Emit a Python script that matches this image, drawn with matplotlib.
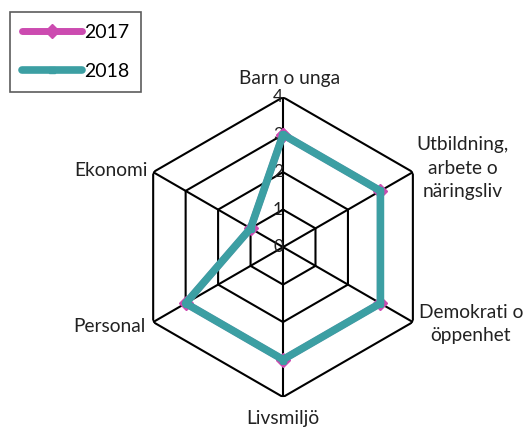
import numpy as np
import matplotlib.pyplot as plt

plt.rcParams['font.family'] = ['Lato', 'DejaVu Sans']

categories = ["Barn o unga", "Utbildning,\narbete o\nnäringsliv", "Demokrati o\nöppenhet",
              "Livsmiljö", "Personal", "Ekonomi"]
values_2017 = [3, 3, 3, 3, 3, 1]
values_2018 = [3, 3, 3, 3, 3, 1]
r_ticks = [0, 1, 2, 3, 4]

magenta = '#CC4BB0'
teal = '#3C9FA3'

n = len(categories)
angles = np.arange(n) * 2 * np.pi / n
closed = np.append(angles, angles[0])

fig = plt.figure(figsize=(5.31, 4.29), dpi=100)
ax = fig.add_axes([0.2505, 0.0745, 0.565, 0.699], projection='polar')
ax.set_theta_offset(np.pi / 2)
ax.set_theta_direction(-1)
ax.set_ylim(0, 4)
ax.grid(False)
ax.spines['polar'].set_visible(False)
ax.set_xticks([])
ax.set_yticks([])
ax.patch.set_alpha(0)

# hexagon grid
for r in r_ticks[1:]:
    ax.plot(closed, [r] * (n + 1), color='black', lw=1.5, zorder=1)
for a in angles:
    ax.plot([a, a], [0, 4], color='black', lw=1.5, zorder=1)

# r labels along top spoke
for r in r_ticks:
    ax.annotate(str(r), xy=(0, r), xytext=(-5, 0), textcoords='offset pixels',
                ha='center', va='center', fontsize=12.5, color='#222222', zorder=2)

ax.plot(closed, values_2017 + values_2017[:1], color=magenta, lw=5, marker='D',
        markersize=7, label='2017', zorder=3, solid_capstyle='round')
ax.plot(closed, values_2018 + values_2018[:1], color=teal, lw=5.5, marker='s',
        markersize=5, label='2018', zorder=4, solid_capstyle='round')

# category labels
offsets = [(7, 19, 'center'), (50, 4, 'center'), (58, -2, 'center'),
           (0, -21, 'center'), (-8, -4, 'right'), (-5, 2, 'right')]
for a, lab, (dx, dy, ha) in zip(angles, categories, offsets):
    ax.annotate(lab, xy=(a, 4), xytext=(dx, dy), textcoords='offset pixels',
                ha=ha, va='center', fontsize=13.8, color='#222222',
                multialignment='center', linespacing=1.45, annotation_clip=False)

leg = fig.legend(loc='upper left', bbox_to_anchor=(0.0188, 0.972), fontsize=14,
                 frameon=True, fancybox=False, edgecolor='#333333',
                 handlelength=3.1, handletextpad=0.1, labelspacing=1.15,
                 borderpad=0.6, borderaxespad=0)
leg.get_frame().set_linewidth(1.2)

fig.savefig('out.png', dpi=100)
